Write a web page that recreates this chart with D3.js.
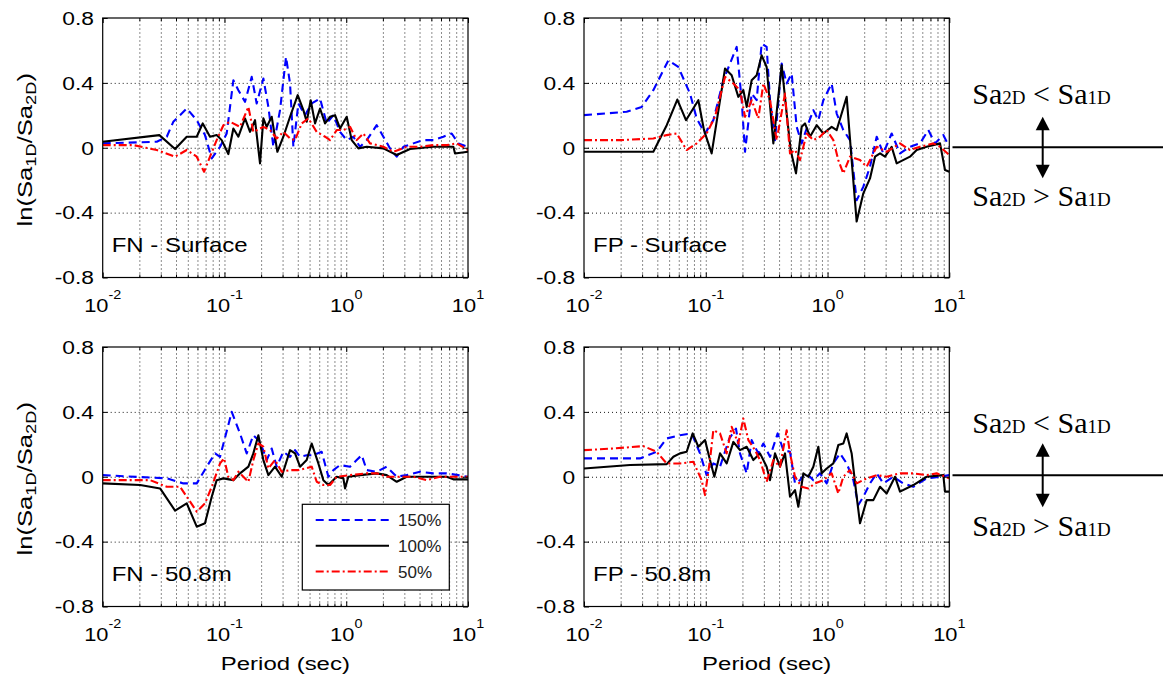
<!DOCTYPE html>
<html>
<head>
<meta charset="utf-8">
<script src="https://cdn.jsdelivr.net/npm/d3@7"></script>
<style>
  html, body { margin: 0; padding: 0; background: #fff; }
  svg { display: block; }
</style>
</head>
<body>
<svg id="chart" width="1163" height="679"></svg>
<script>
// ---- Data: [period (sec), ln(Sa1D/Sa2D)] ----
const fnSurface150 = [[0.01,0.027],[0.0278,0.037],[0.0336,0.068],[0.038,0.160],[0.049,0.242],[0.0592,0.170],[0.0692,0.078],[0.0786,-0.066],[0.092,0.006],[0.1043,0.088],[0.1183,0.416],[0.1301,0.355],[0.1475,0.283],[0.1674,0.437],[0.1839,0.273],[0.2087,0.427],[0.2294,0.252],[0.2521,0.006],[0.2859,0.232],[0.3203,0.560],[0.3456,0.396],[0.3681,0.006],[0.4045,0.273],[0.4588,0.201],[0.5205,0.273],[0.6093,0.304],[0.6912,0.150],[0.7842,0.201],[0.8893,0.098],[1.009,0.047],[1.144,0.068],[1.298,0.006],[1.473,0.047],[1.779,0.139],[2.018,0.068],[2.289,-0.004],[2.597,-0.055],[2.946,0.006],[3.558,0.027],[4.299,0.047],[5.195,0.047],[6.277,0.068],[7.348,0.088],[8.335,0.027],[10,0.006]];
const fnSurface100 = [[0.01,0.037],[0.0292,0.078],[0.0393,-0.008],[0.049,0.068],[0.0592,0.068],[0.0663,0.150],[0.0761,0.068],[0.0863,0.078],[0.0949,0.047],[0.1076,-0.039],[0.1183,0.119],[0.1301,0.068],[0.1475,0.181],[0.1622,0.098],[0.1782,0.170],[0.1959,-0.096],[0.2087,0.181],[0.2223,0.129],[0.2443,0.191],[0.2719,-0.025],[0.3045,0.068],[0.3456,0.191],[0.3995,0.324],[0.4446,0.232],[0.4735,0.160],[0.5107,0.293],[0.5544,0.150],[0.6093,0.242],[0.6697,0.150],[0.7362,0.191],[0.8093,0.201],[0.8893,0.119],[1.009,0.191],[1.109,0.047],[1.258,-0.004],[1.473,0.006],[2.018,-0.004],[2.597,-0.045],[3.342,-0.008],[5.195,0.006],[7.583,0.006],[7.826,-0.035],[10,-0.025]];
const fnSurface50 = [[0.01,0.016],[0.0179,0.016],[0.0278,-0.014],[0.0393,-0.055],[0.049,-0.014],[0.0592,-0.055],[0.068,-0.148],[0.0761,-0.055],[0.0863,0.047],[0.098,0.139],[0.111,0.160],[0.1342,0.129],[0.1572,0.252],[0.1727,0.098],[0.2087,0.129],[0.2367,0.109],[0.2685,0.057],[0.3045,0.098],[0.3456,0.057],[0.3799,0.047],[0.4309,0.150],[0.4887,0.181],[0.5722,0.098],[0.6697,0.068],[0.7362,0.047],[0.8352,0.109],[0.9473,0.109],[1.075,0.129],[1.219,0.047],[1.383,0.088],[1.569,0.027],[2.018,0.006],[2.438,-0.025],[3.137,0.006],[4.037,0.006],[5.195,0.016],[6.685,0.016],[8.075,0.027],[10,-0.014]];

const fpSurface150 = [[0.01,0.201],[0.0224,0.222],[0.0298,0.252],[0.0371,0.355],[0.0493,0.539],[0.0595,0.498],[0.0742,0.334],[0.0842,0.181],[0.0986,0.088],[0.1154,0.170],[0.1394,0.416],[0.1794,0.622],[0.1972,0.293],[0.21,-0.025],[0.2382,0.334],[0.2618,0.293],[0.2877,0.642],[0.3162,0.622],[0.337,0.293],[0.3703,0.047],[0.4202,0.519],[0.4617,0.396],[0.5075,0.457],[0.5579,0.129],[0.6132,0.027],[0.6955,0.150],[0.7645,0.232],[0.8404,0.170],[0.9238,0.293],[1.081,0.396],[1.189,0.211],[1.348,0.109],[1.529,0.047],[1.734,-0.324],[1.968,-0.240],[2.232,-0.117],[2.533,0.068],[2.872,-0.035],[3.362,0.088],[3.937,-0.035],[4.755,0.006],[5.746,0.027],[6.727,0.109],[7.632,0.027],[8.93,0.078],[10,0.006]];
const fpSurface100 = [[0.01,-0.025],[0.0371,-0.025],[0.0478,0.139],[0.0584,0.297],[0.0688,0.170],[0.0869,0.293],[0.0967,0.109],[0.1118,-0.035],[0.1439,0.488],[0.1632,0.447],[0.1851,0.314],[0.2035,0.355],[0.2168,0.252],[0.2382,0.416],[0.2618,0.447],[0.2877,0.570],[0.3162,0.498],[0.3589,0.027],[0.4202,0.509],[0.4617,0.211],[0.498,-0.014],[0.5508,-0.158],[0.6132,0.129],[0.6531,0.150],[0.7178,0.068],[0.8144,0.139],[0.9238,0.088],[1.081,0.129],[1.189,0.109],[1.306,0.211],[1.436,0.314],[1.578,-0.076],[1.734,-0.455],[1.968,-0.281],[2.232,-0.189],[2.455,-0.055],[2.698,-0.035],[2.965,-0.055],[3.362,0.006],[3.698,-0.096],[4.755,-0.055],[5.396,-0.014],[6.516,0.006],[8.39,0.027],[9.22,-0.137],[10,-0.148]];
const fpSurface50 = [[0.01,0.047],[0.0198,0.047],[0.0371,0.057],[0.0478,0.078],[0.0577,0.088],[0.0697,-0.014],[0.0842,0.027],[0.1017,0.088],[0.1191,0.191],[0.1439,0.437],[0.1685,0.396],[0.191,0.355],[0.21,0.191],[0.2382,0.293],[0.2702,0.181],[0.2971,0.396],[0.337,0.293],[0.3822,0.047],[0.4475,0.334],[0.4918,-0.035],[0.5406,-0.014],[0.5941,-0.076],[0.6742,0.088],[0.7645,0.047],[0.867,0.068],[0.984,0.109],[1.116,0.047],[1.226,-0.076],[1.348,-0.158],[1.529,-0.055],[1.848,-0.076],[2.096,-0.117],[2.533,0.006],[3.059,-0.025],[3.937,0.027],[4.755,-0.014],[5.746,0.006],[7.395,0.027],[8.39,0.006],[10,-0.045]];

const fn508m150 = [[0.01,0.010],[0.0336,-0.010],[0.046,-0.041],[0.0592,-0.041],[0.0715,0.062],[0.0837,0.144],[0.092,0.123],[0.1147,0.400],[0.1342,0.267],[0.1523,0.144],[0.1727,0.256],[0.1959,0.215],[0.2223,0.103],[0.2443,0.174],[0.2685,0.062],[0.3045,0.154],[0.3456,0.123],[0.3799,0.164],[0.4175,0.123],[0.4735,0.133],[0.5372,0.133],[0.6288,0.154],[0.7133,0.000],[0.7842,0.041],[0.8893,0.072],[1.075,0.062],[1.219,0.103],[1.340,0.133],[1.473,0.041],[1.779,0.031],[2.149,0.062],[2.597,0.000],[3.137,0.010],[4.037,0.031],[5.195,0.021],[6.685,0.021],[10,0.000]];
const fn508m100 = [[0.01,-0.041],[0.0203,-0.051],[0.0296,-0.072],[0.0393,-0.209],[0.049,-0.164],[0.0592,-0.308],[0.0692,-0.287],[0.0786,-0.123],[0.0863,-0.021],[0.098,-0.010],[0.1183,-0.021],[0.1342,0.021],[0.1572,0.062],[0.1727,0.144],[0.1898,0.256],[0.2087,0.103],[0.2294,0.010],[0.2602,0.062],[0.2951,0.000],[0.3456,0.164],[0.3799,0.144],[0.4175,0.062],[0.4735,0.103],[0.5205,0.205],[0.5904,0.082],[0.6489,-0.021],[0.7133,-0.051],[0.8352,0.000],[0.9473,-0.010],[0.9777,-0.072],[1.041,0.000],[1.298,0.010],[1.779,0.021],[2.149,0.010],[2.597,-0.031],[3.137,0.000],[4.579,0.000],[6.685,0.000],[7.583,-0.016],[10,-0.016]];
const fn508m50 = [[0.01,-0.021],[0.0245,-0.021],[0.0336,-0.062],[0.0432,-0.062],[0.049,-0.123],[0.0592,-0.215],[0.0692,-0.164],[0.0786,-0.062],[0.092,0.082],[0.0992,0.113],[0.1076,0.000],[0.1183,-0.021],[0.1301,0.031],[0.1429,0.000],[0.1572,-0.031],[0.1727,0.103],[0.1898,0.205],[0.2087,0.185],[0.2294,0.051],[0.2602,0.103],[0.2951,0.031],[0.3456,0.041],[0.4045,0.041],[0.4588,0.051],[0.5205,0.062],[0.5722,-0.031],[0.6489,-0.051],[0.7362,-0.051],[0.8352,0.000],[1.075,0.010],[1.473,0.021],[1.779,0.021],[2.149,0.000],[2.766,0.000],[3.558,0.000],[4.579,-0.021],[5.893,0.000],[7.583,0.000],[10,0.000]];

const fp508m150 = [[0.01,0.113],[0.0288,0.113],[0.0395,0.154],[0.0477,0.236],[0.0614,0.256],[0.0766,0.267],[0.0897,0.144],[0.1017,0.010],[0.1154,0.082],[0.1309,0.062],[0.1562,0.236],[0.1771,0.297],[0.191,0.144],[0.2167,0.021],[0.2382,0.226],[0.2702,0.144],[0.2971,0.205],[0.337,0.123],[0.3895,0.267],[0.4335,0.164],[0.4918,0.154],[0.5405,-0.041],[0.594,-0.021],[0.6531,0.021],[0.7178,0.000],[0.7645,-0.021],[0.867,0.021],[0.984,-0.041],[1.116,0.082],[1.266,0.144],[1.436,0.082],[1.629,-0.021],[1.79,-0.174],[1.968,-0.123],[2.233,-0.041],[2.533,0.021],[2.872,-0.041],[3.471,0.000],[4.194,-0.041],[5.066,-0.062],[6.52,-0.010],[8.39,0.000],[10,0.010]];
const fp508m100 = [[0.01,0.051],[0.0239,0.072],[0.0478,0.078],[0.0542,0.123],[0.0614,0.144],[0.0697,0.154],[0.0781,0.267],[0.0869,0.185],[0.0986,0.226],[0.1083,0.103],[0.1176,0.000],[0.1309,0.144],[0.1485,0.082],[0.1685,0.215],[0.191,0.164],[0.2168,0.185],[0.2458,0.103],[0.2789,0.144],[0.3162,0.062],[0.337,-0.021],[0.3703,0.144],[0.4072,0.062],[0.4475,0.144],[0.4918,-0.123],[0.5406,-0.082],[0.5757,-0.185],[0.6328,0.021],[0.6955,0.000],[0.7645,0.062],[0.8404,0.185],[0.8949,0.021],[0.984,0.051],[1.116,0.082],[1.226,0.195],[1.348,0.205],[1.436,0.267],[1.578,0.144],[1.735,-0.123],[1.848,-0.287],[2.096,-0.144],[2.378,-0.144],[2.698,-0.062],[3.059,-0.103],[3.582,0.000],[3.937,-0.092],[5.066,-0.051],[6.52,0.000],[8.93,0.010],[9.22,-0.092],[10,-0.092]];
const fp508m50 = [[0.01,0.164],[0.0174,0.174],[0.0307,0.189],[0.0395,0.154],[0.0477,0.082],[0.0614,0.082],[0.0791,0.092],[0.0925,-0.021],[0.0986,-0.113],[0.1083,0.103],[0.1154,0.287],[0.1309,0.267],[0.1485,0.144],[0.1632,0.308],[0.1851,0.205],[0.2034,0.359],[0.2237,0.226],[0.2537,0.164],[0.2789,0.103],[0.3163,-0.031],[0.3589,0.103],[0.407,0.062],[0.4617,0.287],[0.4918,0.144],[0.5405,0.000],[0.6132,-0.062],[0.6955,-0.072],[0.789,-0.041],[0.9238,-0.021],[1.081,0.021],[1.226,-0.103],[1.348,0.000],[1.529,0.041],[1.735,-0.041],[2.096,-0.010],[2.533,0.010],[3.059,0.000],[3.937,0.021],[5.066,0.021],[6.52,0.010],[7.875,0.021],[10,-0.010]];

// ---- Axes, labels, legend ----
const yTickValues = [-0.8, -0.4, 0, 0.4, 0.8];
const yTickLabels = ["-0.8", "-0.4", "0", "0.4", "0.8"];
const xDecades = [0.01, 0.1, 1, 10];
const xDecadeExponents = ["-2", "-1", "0", "1"];
const seriesNames = ["150%", "100%", "50%"];
const panelTitles = ["FN - Surface", "FP - Surface", "FN - 50.8m", "FP - 50.8m"];
const xTitle = "Period (sec)";

// ---- Layout & styles ----
const SANS = "'Liberation Sans', Arial, sans-serif";
const SERIF = "'Liberation Serif', 'Times New Roman', serif";
const PW = 365.3, PH = 259.5;
const seriesStyle = [
  { color: "#0000ff", dash: "8,5" },
  { color: "#000000", dash: null },
  { color: "#ff0000", dash: "8,3,2,3" }
];

const panels = [
  { left: 102.7, top: 18,  series: [fnSurface150, fnSurface100, fnSurface50], title: panelTitles[0], yTitle: true,  xTitle: false, legend: false },
  { left: 584,   top: 18,  series: [fpSurface150, fpSurface100, fpSurface50], title: panelTitles[1], yTitle: false, xTitle: false, legend: false },
  { left: 102.7, top: 347, series: [fn508m150, fn508m100, fn508m50],          title: panelTitles[2], yTitle: true,  xTitle: true,  legend: true },
  { left: 584,   top: 347, series: [fp508m150, fp508m100, fp508m50],          title: panelTitles[3], yTitle: false, xTitle: true,  legend: false }
];

const svg = d3.select("#chart");
svg.append("rect").attr("width", 1163).attr("height", 679).attr("fill", "#fff");

const x = d3.scaleLog().domain([0.01, 10]).range([0, PW]);
const y = d3.scaleLinear().domain([-0.8, 0.8]).range([PH, 0]);

// minor positions 2..9 x each decade
const minorTicks = [];
[0.01, 0.1, 1].forEach(d => { for (let k = 2; k <= 9; k++) minorTicks.push(+(d * k).toPrecision(3)); });
const gridX = minorTicks.concat([0.1, 1]);
const gridY = [-0.4, 0, 0.4];

const line = d3.line().x(d => x(d[0])).y(d => y(d[1]));

panels.forEach((p, i) => {
  const g = svg.append("g").attr("transform", `translate(${p.left},${p.top})`);

  // white plot background
  g.append("rect").attr("width", PW).attr("height", PH).attr("fill", "#fff");

  // dotted grid
  const gx = g.append("g").attr("transform", `translate(0,${PH})`)
    .call(d3.axisBottom(x).tickValues(gridX).tickSize(-PH).tickFormat(""));
  const gy = g.append("g")
    .call(d3.axisLeft(y).tickValues(gridY).tickSize(-PW).tickFormat(""));
  [gx, gy].forEach(a => {
    a.select(".domain").remove();
    a.selectAll("line").attr("stroke", "#1a1a1a").attr("stroke-width", 1).attr("stroke-dasharray", "1,3");
  });

  // data lines
  const clipId = "clip" + i;
  g.append("clipPath").attr("id", clipId).append("rect").attr("width", PW).attr("height", PH);
  const lines = g.append("g").attr("clip-path", `url(#${clipId})`);
  p.series.forEach((s, k) => {
    lines.append("path").datum(s)
      .attr("d", line)
      .attr("fill", "none")
      .attr("stroke", seriesStyle[k].color)
      .attr("stroke-width", 2.1)
      .attr("stroke-linejoin", "round")
      .attr("stroke-dasharray", seriesStyle[k].dash);
  });

  // inward tick marks on all four sides
  const tickAxes = [
    g.append("g").attr("transform", `translate(0,${PH})`).call(d3.axisBottom(x).tickValues(xDecades).tickSize(-5).tickFormat("")),
    g.append("g").attr("transform", `translate(0,${PH})`).call(d3.axisBottom(x).tickValues(minorTicks).tickSize(-3).tickFormat("")),
    g.append("g").call(d3.axisTop(x).tickValues(xDecades).tickSize(-5).tickFormat("")),
    g.append("g").call(d3.axisTop(x).tickValues(minorTicks).tickSize(-3).tickFormat("")),
    g.append("g").call(d3.axisLeft(y).tickValues(yTickValues).tickSize(-5).tickFormat("")),
    g.append("g").attr("transform", `translate(${PW},0)`).call(d3.axisRight(y).tickValues(yTickValues).tickSize(-5).tickFormat(""))
  ];
  tickAxes.forEach(a => { a.select(".domain").remove(); a.selectAll("line").attr("stroke", "#000"); });

  // axes box
  g.append("rect").attr("width", PW).attr("height", PH)
    .attr("fill", "none").attr("stroke", "#000").attr("stroke-width", 1.2);

  // y tick labels
  yTickValues.forEach((v, j) => {
    g.append("text")
      .attr("transform", `translate(-8.7,${y(v)}) scale(1.2,1)`)
      .attr("text-anchor", "end").attr("dominant-baseline", "central")
      .attr("font-family", SANS).attr("font-size", 19).attr("fill", "#000")
      .text(yTickLabels[j]);
  });

  // x tick labels 10^n
  xDecades.forEach((v, j) => {
    const t = g.append("text")
      .attr("transform", `translate(${x(v)},${PH + 34}) scale(1.15,1)`)
      .attr("text-anchor", "middle")
      .attr("font-family", SANS).attr("font-size", 19).attr("fill", "#000");
    t.append("tspan").text("10");
    t.append("tspan").attr("dy", -12.5).attr("font-size", 12.5).text(xDecadeExponents[j]);
  });

  // panel title
  g.append("text")
    .attr("transform", `translate(9,234) scale(1.2,1)`)
    .attr("font-family", SANS).attr("font-size", 20).attr("fill", "#000")
    .text(p.title);

  // y axis title
  if (p.yTitle) {
    const t = g.append("text")
      .attr("transform", `translate(${31.7 - p.left},${PH / 2 + 2}) rotate(-90) scale(1.22,1)`)
      .attr("text-anchor", "middle")
      .attr("font-family", SANS).attr("font-size", 21).attr("fill", "#000");
    t.append("tspan").text("ln(Sa");
    t.append("tspan").attr("dy", 4.5).attr("font-size", 15).text("1D");
    t.append("tspan").attr("dy", -4.5).text("/Sa");
    t.append("tspan").attr("dy", 4.5).attr("font-size", 15).text("2D");
    t.append("tspan").attr("dy", -4.5).text(")");
  }

  // x axis title
  if (p.xTitle) {
    g.append("text")
      .attr("transform", `translate(${PW / 2},${PH + 63.5}) scale(1.26,1)`)
      .attr("text-anchor", "middle")
      .attr("font-family", SANS).attr("font-size", 19).attr("fill", "#000")
      .text(xTitle);
  }

  // legend
  if (p.legend) {
    const lg = g.append("g").attr("transform", "translate(199.6,157.3)");
    lg.append("rect").attr("width", 147).attr("height", 85.7)
      .attr("fill", "#fff").attr("stroke", "#000").attr("stroke-width", 1.2);
    seriesNames.forEach((name, k) => {
      const ly = 15.7 + k * 25.7;
      lg.append("line").attr("x1", 13.4).attr("x2", 86.7).attr("y1", ly).attr("y2", ly)
        .attr("stroke", seriesStyle[k].color).attr("stroke-width", 2)
        .attr("stroke-dasharray", seriesStyle[k].dash);
      lg.append("text").attr("x", 95.7).attr("y", ly + 6.5)
        .attr("font-family", SANS).attr("font-size", 17).attr("fill", "#222")
        .text(name);
    });
  }
});

// ---- Side annotations: direction of the ratio ----
const annotations = [
  { lineY: 147.3, upText: 104, downText: 206, tipUp: 116.7, tipDown: 178.3 },
  { lineY: 475.3, upText: 433, downText: 536, tipUp: 443.3, tipDown: 507.3 }
];
const ax = 1042.7;
annotations.forEach(a => {
  const g = svg.append("g");
  g.append("line").attr("x1", 952.5).attr("x2", 1163).attr("y1", a.lineY).attr("y2", a.lineY)
    .attr("stroke", "#000").attr("stroke-width", 2);
  g.append("line").attr("x1", ax).attr("x2", ax).attr("y1", a.tipUp + 12).attr("y2", a.tipDown - 12)
    .attr("stroke", "#000").attr("stroke-width", 2);
  g.append("path").attr("d", `M${ax},${a.tipUp}L${ax - 7},${a.tipUp + 13.5}L${ax + 7},${a.tipUp + 13.5}Z`).attr("fill", "#000");
  g.append("path").attr("d", `M${ax},${a.tipDown}L${ax - 7},${a.tipDown - 13.5}L${ax + 7},${a.tipDown - 13.5}Z`).attr("fill", "#000");

  [[a.upText, " < "], [a.downText, " > "]].forEach(([ty, op]) => {
    const t = g.append("text").attr("x", 972.3).attr("y", ty)
      .attr("font-family", SERIF).attr("font-size", 30).attr("fill", "#000")
      .attr("xml:space", "preserve").style("white-space", "pre");
    t.append("tspan").text("Sa");
    t.append("tspan").attr("font-size", 19).text("2D");
    t.append("tspan").text(op + "Sa");
    t.append("tspan").attr("font-size", 19).text("1D");
  });
});
</script>
</body>
</html>
